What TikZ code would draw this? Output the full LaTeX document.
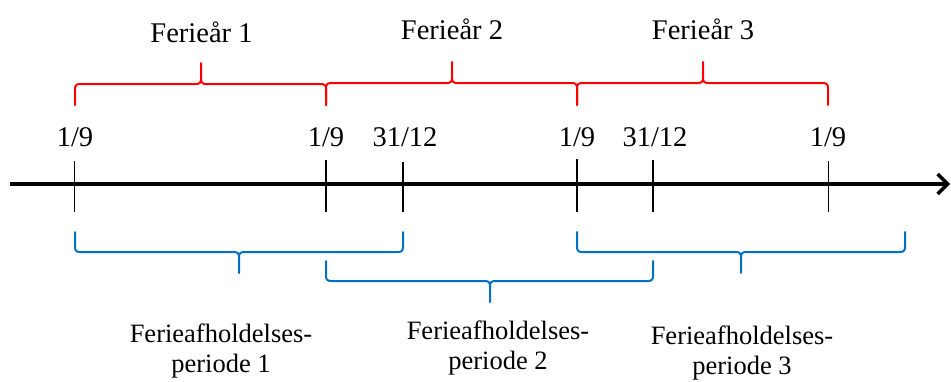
\documentclass[tikz,border=0pt]{standalone}
\usepackage{fontspec}
\setmainfont{Liberation Serif}
\usetikzlibrary{arrows.meta}
\definecolor{bracered}{RGB}{255,0,0}
\definecolor{braceblue}{RGB}{0,112,192}
% #1 style, #2 x1, #3 x2, #4 xm, #5 yend, #6 yh, #7 s (+1: ends below, tip above)
\newcommand\mybrace[7]{%
\draw[#1] ({#2},{#5}) -- ({#2},{#6+5*(#7)})
  .. controls ({#2},{#6+1.5*(#7)}) and ({#2+1.5},{#6}) .. ({#2+5},{#6})
  -- ({#4-5},{#6})
  .. controls ({#4-1.5},{#6}) and ({#4},{#6-1.5*(#7)}) .. ({#4},{#6-5*(#7)})
  -- ({#4},{#6-21*(#7)})
  ({#4},{#6-5*(#7)})
  .. controls ({#4},{#6-1.5*(#7)}) and ({#4+1.5},{#6}) .. ({#4+5},{#6})
  -- ({#3-5},{#6})
  .. controls ({#3-1.5},{#6}) and ({#3},{#6+1.5*(#7)}) .. ({#3},{#6+5*(#7)})
  -- ({#3},{#5});}
\begin{document}
\begin{tikzpicture}[x=1pt,y=-1pt,
  redbrace/.style={draw=bracered,line width=2pt,line cap=round},
  bluebrace/.style={draw=braceblue,line width=2pt,line cap=round},
  tick/.style={line width=1.6pt},
  datelbl/.style={anchor=base,inner sep=0pt,font=\fontsize{28.5}{30}\selectfont},
  yearlbl/.style={anchor=base,inner sep=0pt,font=\fontsize{28.5}{30}\selectfont},
  perlbl/.style={align=center,inner sep=0pt,font=\fontsize{26.5}{30.5}\selectfont}]
\useasboundingbox (0,0) rectangle (951,381);
% axis
\coordinate (axL) at (10,184);
\coordinate (axR) at (950,184);
\draw[line width=3.5pt,-{Straight Barb[length=10pt,width=20pt]}] (axL) -- (axR);
% ticks
\foreach \n/\x/\yt in {1/74.5/161,2/325.7/160,3/402.7/162,4/576.7/159,5/652.7/160,6/828.3/161}{
  \coordinate (t\n) at (\x,\yt);
  \coordinate (b\n) at (\x,212);
  \draw[tick] (t\n) -- (b\n);
}
% dates
\node[datelbl] (d1) at (75,146) {1/9};
\node[datelbl] (d2) at (326,146) {1/9};
\node[datelbl] (d3) at (405,146) {31/12};
\node[datelbl] (d4) at (577,146) {1/9};
\node[datelbl] (d5) at (655,146) {31/12};
\node[datelbl] (d6) at (828,146) {1/9};
% red braces
\mybrace{redbrace}{75}{326}{201}{105}{84}{1}
\mybrace{redbrace}{326}{577}{452}{105}{83}{1}
\mybrace{redbrace}{577}{828}{703}{105}{83}{1}
\node[yearlbl] (y1) at (201.5,42) {Ferieår 1};
\node[yearlbl] (y2) at (452,39) {Ferieår 2};
\node[yearlbl] (y3) at (703,39) {Ferieår 3};
% blue braces
\mybrace{bluebrace}{75}{403}{239}{232}{252}{-1}
\mybrace{bluebrace}{326}{653}{490}{261}{281}{-1}
\mybrace{bluebrace}{577}{905}{741}{232}{252}{-1}
\node[perlbl] (p1) at (221,351) {Ferieafholdelses-\\periode 1};
\node[perlbl] (p2) at (498,348) {Ferieafholdelses-\\periode 2};
\node[perlbl] (p3) at (742,353) {Ferieafholdelses-\\periode 3};
\end{tikzpicture}
\end{document}
